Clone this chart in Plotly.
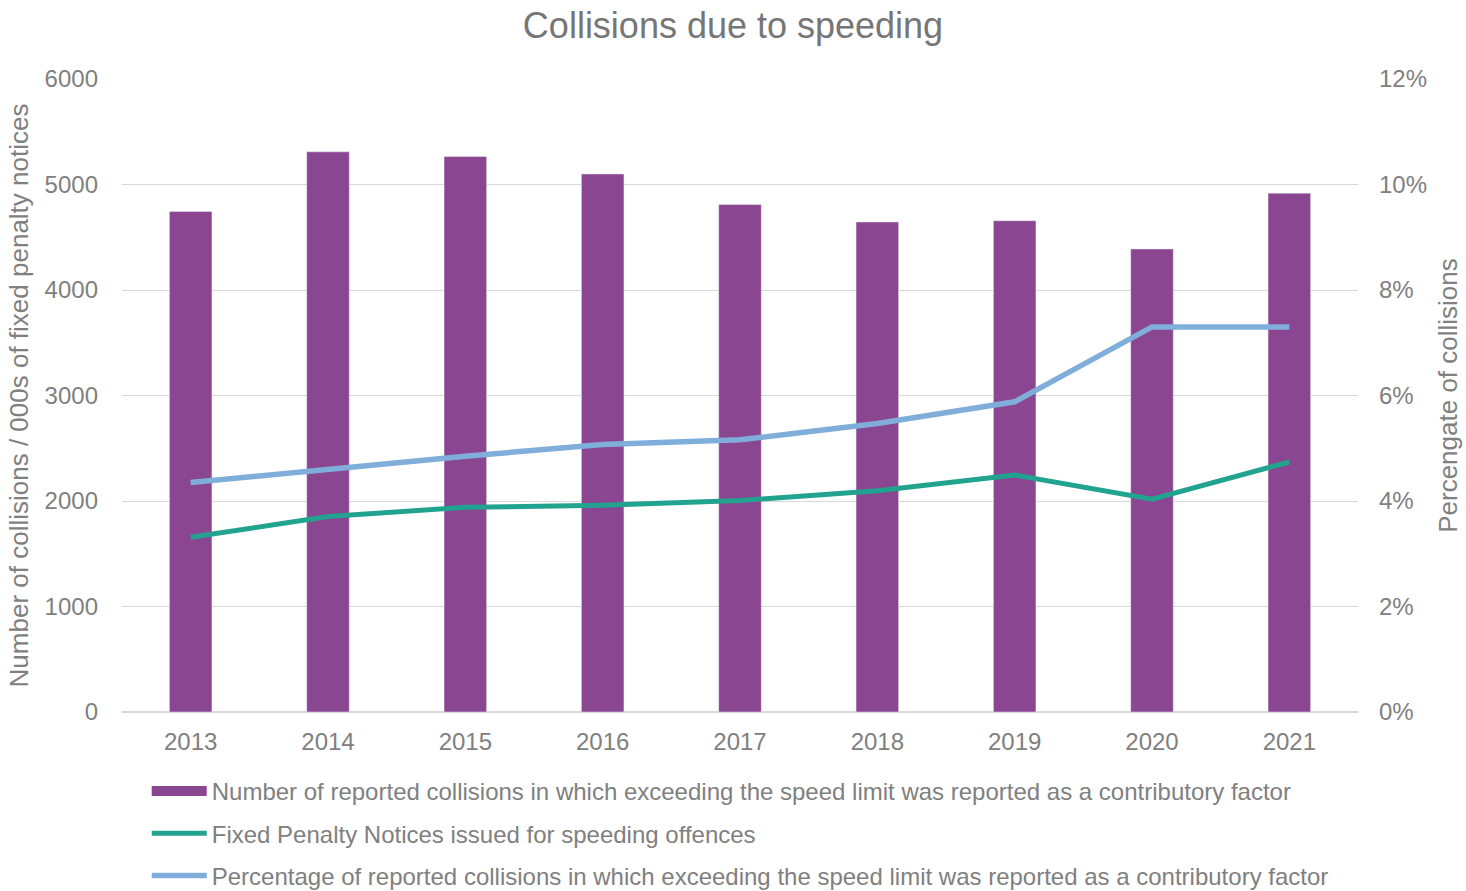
import plotly.graph_objects as go

years = ["2013", "2014", "2015", "2016", "2017", "2018", "2019", "2020", "2021"]
collisions = [4745, 5310, 5265, 5100, 4810, 4645, 4657, 4389, 4918]
fixed_penalties = [1656, 1852, 1940, 1959, 2004, 2097, 2246, 2017, 2370]
pct_collisions = [4.35, 4.61, 4.85, 5.07, 5.16, 5.47, 5.88, 7.30, 7.30]

name_bar = "Number of reported collisions in which exceeding the speed limit was reported as a contributory factor"
name_fpn = "Fixed Penalty Notices issued for speeding offences"
name_pct = "Percentage of reported collisions in which exceeding the speed limit was reported as a contributory factor"

FONT = "Liberation Sans, Arial, sans-serif"
GREY = "#808080"
GRID = "#D9D9D9"
PURPLE = "#8B4691"

fig = go.Figure()
fig.add_trace(go.Bar(
    x=years, y=collisions, name=name_bar, marker_color=PURPLE,
    width=0.31, legendgroup="a", showlegend=False,
))
# legend-only entry so the key shows a wide bar swatch
fig.add_trace(go.Scatter(
    x=[None], y=[None], name=name_bar, mode="lines",
    line=dict(color=PURPLE, width=13), legendgroup="a",
))
fig.add_trace(go.Scatter(
    x=years, y=fixed_penalties, name=name_fpn, mode="lines",
    line=dict(color="#22A38F", width=5), legendgroup="b",
))
fig.add_trace(go.Scatter(
    x=years, y=pct_collisions, name=name_pct, mode="lines", yaxis="y2",
    line=dict(color="#80AEDB", width=5.5), legendgroup="c",
))

fig.update_layout(
    width=1466, height=891,
    margin=dict(l=122, r=108, t=79, b=179, autoexpand=False),
    paper_bgcolor="white", plot_bgcolor="white",
    font=dict(family=FONT, color=GREY, size=24),
    title=dict(text="Collisions due to speeding", x=0.5, xanchor="center",
               y=0.972, yanchor="middle",
               font=dict(size=36, color="#767676", family=FONT)),
    xaxis=dict(showgrid=False, showline=False, ticks="",
               tickfont=dict(size=24, color=GREY), ticklabelstandoff=13),
    yaxis=dict(range=[0, 6000], dtick=1000, tickformat="d",
               gridcolor=GRID, gridwidth=1, zeroline=True, zerolinecolor=GRID,
               showline=False, ticks="", tickfont=dict(size=24, color=GREY),
               ticklabelstandoff=23,
               title=dict(text="Number of collisions / 000s of fixed penalty notices",
                          font=dict(size=26, color=GREY), standoff=8)),
    yaxis2=dict(range=[0, 12], dtick=2, ticksuffix="%", overlaying="y", side="right",
                showgrid=False, zeroline=False, showline=False, ticks="",
                tickfont=dict(size=24, color=GREY), ticklabelstandoff=20,
                title=dict(text="Percengate of collisions",
                           font=dict(size=26, color=GREY), standoff=12)),
    legend=dict(orientation="v", x=0.02, xanchor="left", y=-0.09, yanchor="top",
                font=dict(size=24, color=GREY), tracegroupgap=8,
                bgcolor="rgba(0,0,0,0)", itemwidth=55),
    bargap=0.69,
    showlegend=True,
)

fig.write_html("out.html")
